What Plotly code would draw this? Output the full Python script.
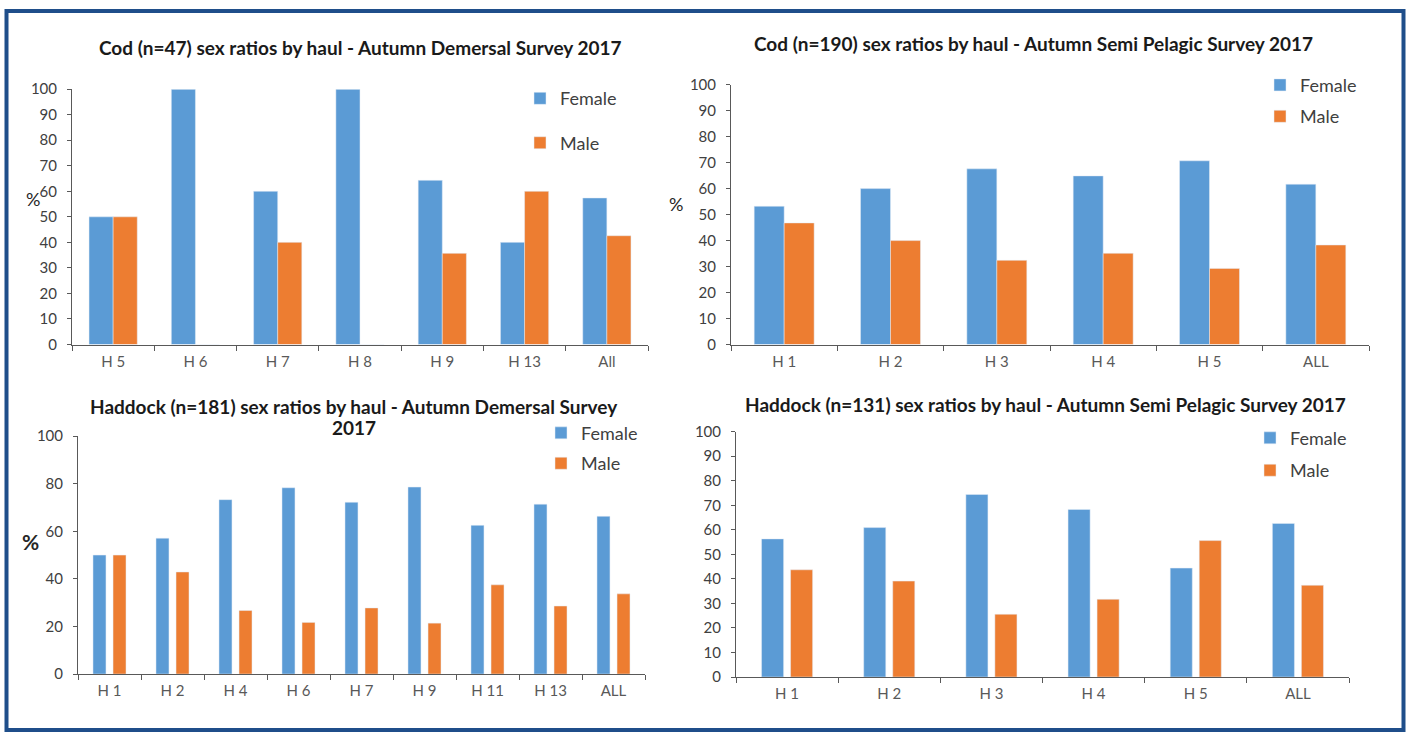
import plotly.graph_objects as go

# ---- data: percentage of females / males per haul ----
cod_dem_hauls = ["H 5", "H 6", "H 7", "H 8", "H 9", "H 13", "All"]
cod_dem_female = [50.0, 100.0, 60.0, 100.0, 64.3, 40.0, 57.4]
cod_dem_male = [50.0, 0.0, 40.0, 0.0, 35.7, 60.0, 42.6]

cod_sp_hauls = ["H 1", "H 2", "H 3", "H 4", "H 5", "ALL"]
cod_sp_female = [53.2, 60.0, 67.6, 64.9, 70.7, 61.7]
cod_sp_male = [46.8, 40.0, 32.4, 35.1, 29.3, 38.3]

had_dem_hauls = ["H 1", "H 2", "H 4", "H 6", "H 7", "H 9", "H 11", "H 13", "ALL"]
had_dem_female = [50.0, 57.1, 73.3, 78.3, 72.2, 78.6, 62.5, 71.4, 66.3]
had_dem_male = [50.0, 42.9, 26.7, 21.7, 27.8, 21.4, 37.5, 28.6, 33.7]

had_sp_hauls = ["H 1", "H 2", "H 3", "H 4", "H 5", "ALL"]
had_sp_female = [56.3, 60.9, 74.4, 68.3, 44.4, 62.6]
had_sp_male = [43.7, 39.1, 25.6, 31.7, 55.6, 37.4]

# chart titles (each list entry is one line)
titles = [
    ["Cod (n=47) sex ratios by haul - Autumn Demersal Survey 2017"],
    ["Cod (n=190) sex ratios by haul - Autumn Semi Pelagic Survey 2017"],
    ["Haddock (n=181) sex ratios by haul - Autumn Demersal Survey", "2017"],
    ["Haddock (n=131) sex ratios by haul - Autumn Semi Pelagic Survey 2017"],
]

W, H = 1412, 740
FONT = "Lato"
FEMALE = "#5B9BD5"
MALE = "#ED7D31"
AXIS = "#595959"
TXT = "#404040"

# vertical page scale/offset of the rendered sheet
VS, VOFF = 0.98, 7.0


def px_x(x):
    return x / W


def sheet_y(y):
    """sheet pixel row -> figure pixel row"""
    return (y - VOFF) / VS


def px_y(y):
    return 1 - sheet_y(y) / H


# panel geometry in sheet pixels: (left, right, top(100), bottom(0))
panels = [
    dict(hauls=cod_dem_hauls, f=cod_dem_female, m=cod_dem_male,
         box=(72, 648, 86.5, 343), dtick=10, bw=0.293, foff=-0.293, moff=0.0,
         title_y=[45], title_x=360, pct=(33, 197, 18), leg=(520, 99), leggap=18),
    dict(hauls=cod_sp_hauls, f=cod_sp_female, m=cod_sp_male,
         box=(731, 1369, 82, 343), dtick=10, bw=0.282, foff=-0.282, moff=0.0,
         title_y=[41], title_x=1033, pct=(676, 202, 18), leg=(1260, 85.5), leggap=5),
    dict(hauls=had_dem_hauls, f=had_dem_female, m=had_dem_male,
         box=(78, 645, 435, 674), dtick=20, bw=0.206, foff=-0.262, moff=0.056,
         title_y=[405, 426], title_x=354, pct=(30, 541, 21), leg=(541, 435), leggap=4),
    dict(hauls=had_sp_hauls, f=had_sp_female, m=had_sp_male,
         box=(736, 1349, 430.5, 677), dtick=10, bw=0.216, foff=-0.250, moff=0.034,
         title_y=[403], title_x=1045, pct=None, leg=(1250, 440), leggap=6),
]

fig = go.Figure()
layout = dict(
    width=W, height=H, autosize=False,
    margin=dict(l=0, r=0, t=0, b=0),
    paper_bgcolor="white", plot_bgcolor="white",
    barmode="group", showlegend=True,
    font=dict(family=FONT, color=TXT),
)
annotations = []

for i, p in enumerate(panels, start=1):
    sfx = "" if i == 1 else str(i)
    xa, ya = "x" + sfx, "y" + sfx
    leg = "legend" + sfx
    l, r, t, b = p["box"]

    fig.add_trace(go.Bar(
        x=p["hauls"], y=p["f"], name="Female", marker_color=FEMALE,
        width=p["bw"], offset=p["foff"], xaxis=xa, yaxis=ya,
        legend=leg, legendgroup="f%d" % i,
    ))
    fig.add_trace(go.Bar(
        x=p["hauls"], y=p["m"], name="Male", marker_color=MALE,
        width=p["bw"], offset=p["moff"], xaxis=xa, yaxis=ya,
        legend=leg, legendgroup="m%d" % i,
    ))

    layout["xaxis" + sfx] = dict(
        domain=[px_x(l), px_x(r)], anchor=ya, type="category",
        range=[-0.5, len(p["hauls"]) - 0.5],
        showline=True, linecolor=AXIS, linewidth=1,
        ticks="outside", tickson="boundaries", ticklen=5, tickcolor=AXIS,
        ticklabelstandoff=3,
        showgrid=False, zeroline=False,
        tickfont=dict(family=FONT, size=15, color="#595959"),
    )
    layout["yaxis" + sfx] = dict(
        domain=[px_y(b), px_y(t)], anchor=xa, range=[0, 100],
        dtick=p["dtick"], tick0=0,
        showline=True, linecolor=AXIS, linewidth=1,
        ticks="outside", ticklen=4, tickcolor=AXIS,
        ticklabelstandoff=7,
        showgrid=False, zeroline=False,
        tickfont=dict(family=FONT, size=15, color=TXT),
    )
    # legend box top placed so that the first entry is centred on the given row
    lx, first_row = p["leg"]
    layout[leg] = dict(
        x=px_x(lx), y=1 - (sheet_y(first_row) - 22) / H,
        xanchor="left", yanchor="top",
        bgcolor="rgba(0,0,0,0)", tracegroupgap=p["leggap"],
        font=dict(family=FONT, size=18, color=TXT),
        itemclick=False, itemdoubleclick=False,
    )

    for line, ty in zip(titles[i - 1], p["title_y"]):
        annotations.append(dict(
            text="<b>%s</b>" % line, xref="paper", yref="paper",
            x=px_x(p["title_x"]), y=px_y(ty), xanchor="center", yanchor="middle",
            showarrow=False, font=dict(family=FONT, size=19, color="#1a1a1a"),
        ))
    if p["pct"]:
        cx, cy, fs = p["pct"]
        annotations.append(dict(
            text="<b>%</b>" if i == 3 else "%", xref="paper", yref="paper",
            x=px_x(cx), y=px_y(cy), xanchor="center", yanchor="middle",
            showarrow=False, font=dict(family=FONT, size=fs, color="#262626"),
        ))

layout["annotations"] = annotations
# dark blue frame around the four charts
layout["shapes"] = [dict(
    type="rect", xref="paper", yref="paper",
    x0=px_x(6.5), x1=px_x(1403.5),
    y0=1 - min(sheet_y(738), 738) / H, y1=px_y(8),
    line=dict(color="#1F4E8A", width=4), fillcolor="rgba(0,0,0,0)",
)]

fig.update_layout(**layout)
fig.write_html("out.html")
